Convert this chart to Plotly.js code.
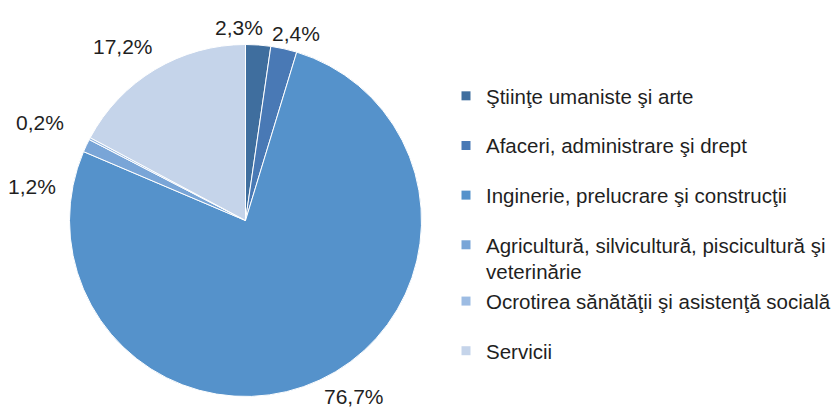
<!DOCTYPE html>
<html>
<head>
<meta charset="utf-8">
<script src="https://cdn.plot.ly/plotly-3.0.1.min.js"></script>
<style>html,body{margin:0;padding:0;background:#fff;}#chart{width:836px;height:410px;}</style>
</head>
<body>
<div id="chart"></div>
<script>
const categories = [
  "Ştiinţe umaniste şi arte",
  "Afaceri, administrare şi drept",
  "Inginerie, prelucrare şi construcţii",
  "Agricultură, silvicultură, piscicultură şi<br>veterinărie",
  "Ocrotirea sănătăţii şi asistenţă socială",
  "Servicii"
];
const shares = [2.3, 2.4, 76.7, 1.2, 0.2, 17.2];
const shareLabels = ["2,3%", "2,4%", "76,7%", "1,2%", "0,2%", "17,2%"];
const colors = ["#3F6E9E", "#4979B5", "#5592CB", "#79A5D7", "#9DBCE3", "#C5D4EA"];
const legendGroups = ["g1", "g2", "g3", "g4", "g4", "g6"];
// label placement (pixel centres, like the original's best-fit data labels)
const labelPx = [[239, 27], [296, 34], [354, 396], [32, 187], [40, 122], [123, 47]];

const FONT = "Liberation Sans, Arial, sans-serif";
const TXT = "#1f1f1f";
const W = 836, H = 410;

const traces = [{
  type: "pie",
  values: shares,
  labels: categories,
  textinfo: "none",
  sort: false,
  direction: "clockwise",
  rotation: 0,
  marker: {colors: colors, line: {color: "#ffffff", width: 1}},
  showlegend: false,
  hoverinfo: "label+percent",
  domain: {x: [69.5/W, 421.5/W], y: [13.5/H, 365.5/H]}
}];

categories.forEach(function(c, i) {
  traces.push({
    type: "scatter",
    mode: "markers",
    x: [null], y: [null],
    name: c,
    legendgroup: legendGroups[i],
    marker: {symbol: "square", size: 9, color: colors[i], line: {width: 0}},
    showlegend: true,
    hoverinfo: "skip"
  });
});

const annotations = shareLabels.map(function(t, i) {
  return {
    text: t, xref: "paper", yref: "paper",
    x: labelPx[i][0] / W, y: 1 - labelPx[i][1] / H,
    xanchor: "center", yanchor: "middle", showarrow: false,
    font: {family: FONT, size: 21, color: TXT}
  };
});

const layout = {
  width: W, height: H,
  margin: {l: 0, r: 0, t: 0, b: 0},
  paper_bgcolor: "#ffffff", plot_bgcolor: "#ffffff",
  xaxis: {visible: false}, yaxis: {visible: false},
  font: {family: FONT, color: TXT},
  showlegend: true,
  annotations: annotations,
  legend: {
    x: 446/W, xanchor: "left",
    y: 1 - 76/H, yanchor: "top",
    font: {family: FONT, size: 20.5, color: TXT},
    traceorder: "grouped",
    tracegroupgap: 20,
    valign: "top",
    bgcolor: "rgba(0,0,0,0)",
    borderwidth: 0
  }
};

Plotly.newPlot("chart", traces, layout, {displayModeBar: false, staticPlot: true});
</script>
</body>
</html>
